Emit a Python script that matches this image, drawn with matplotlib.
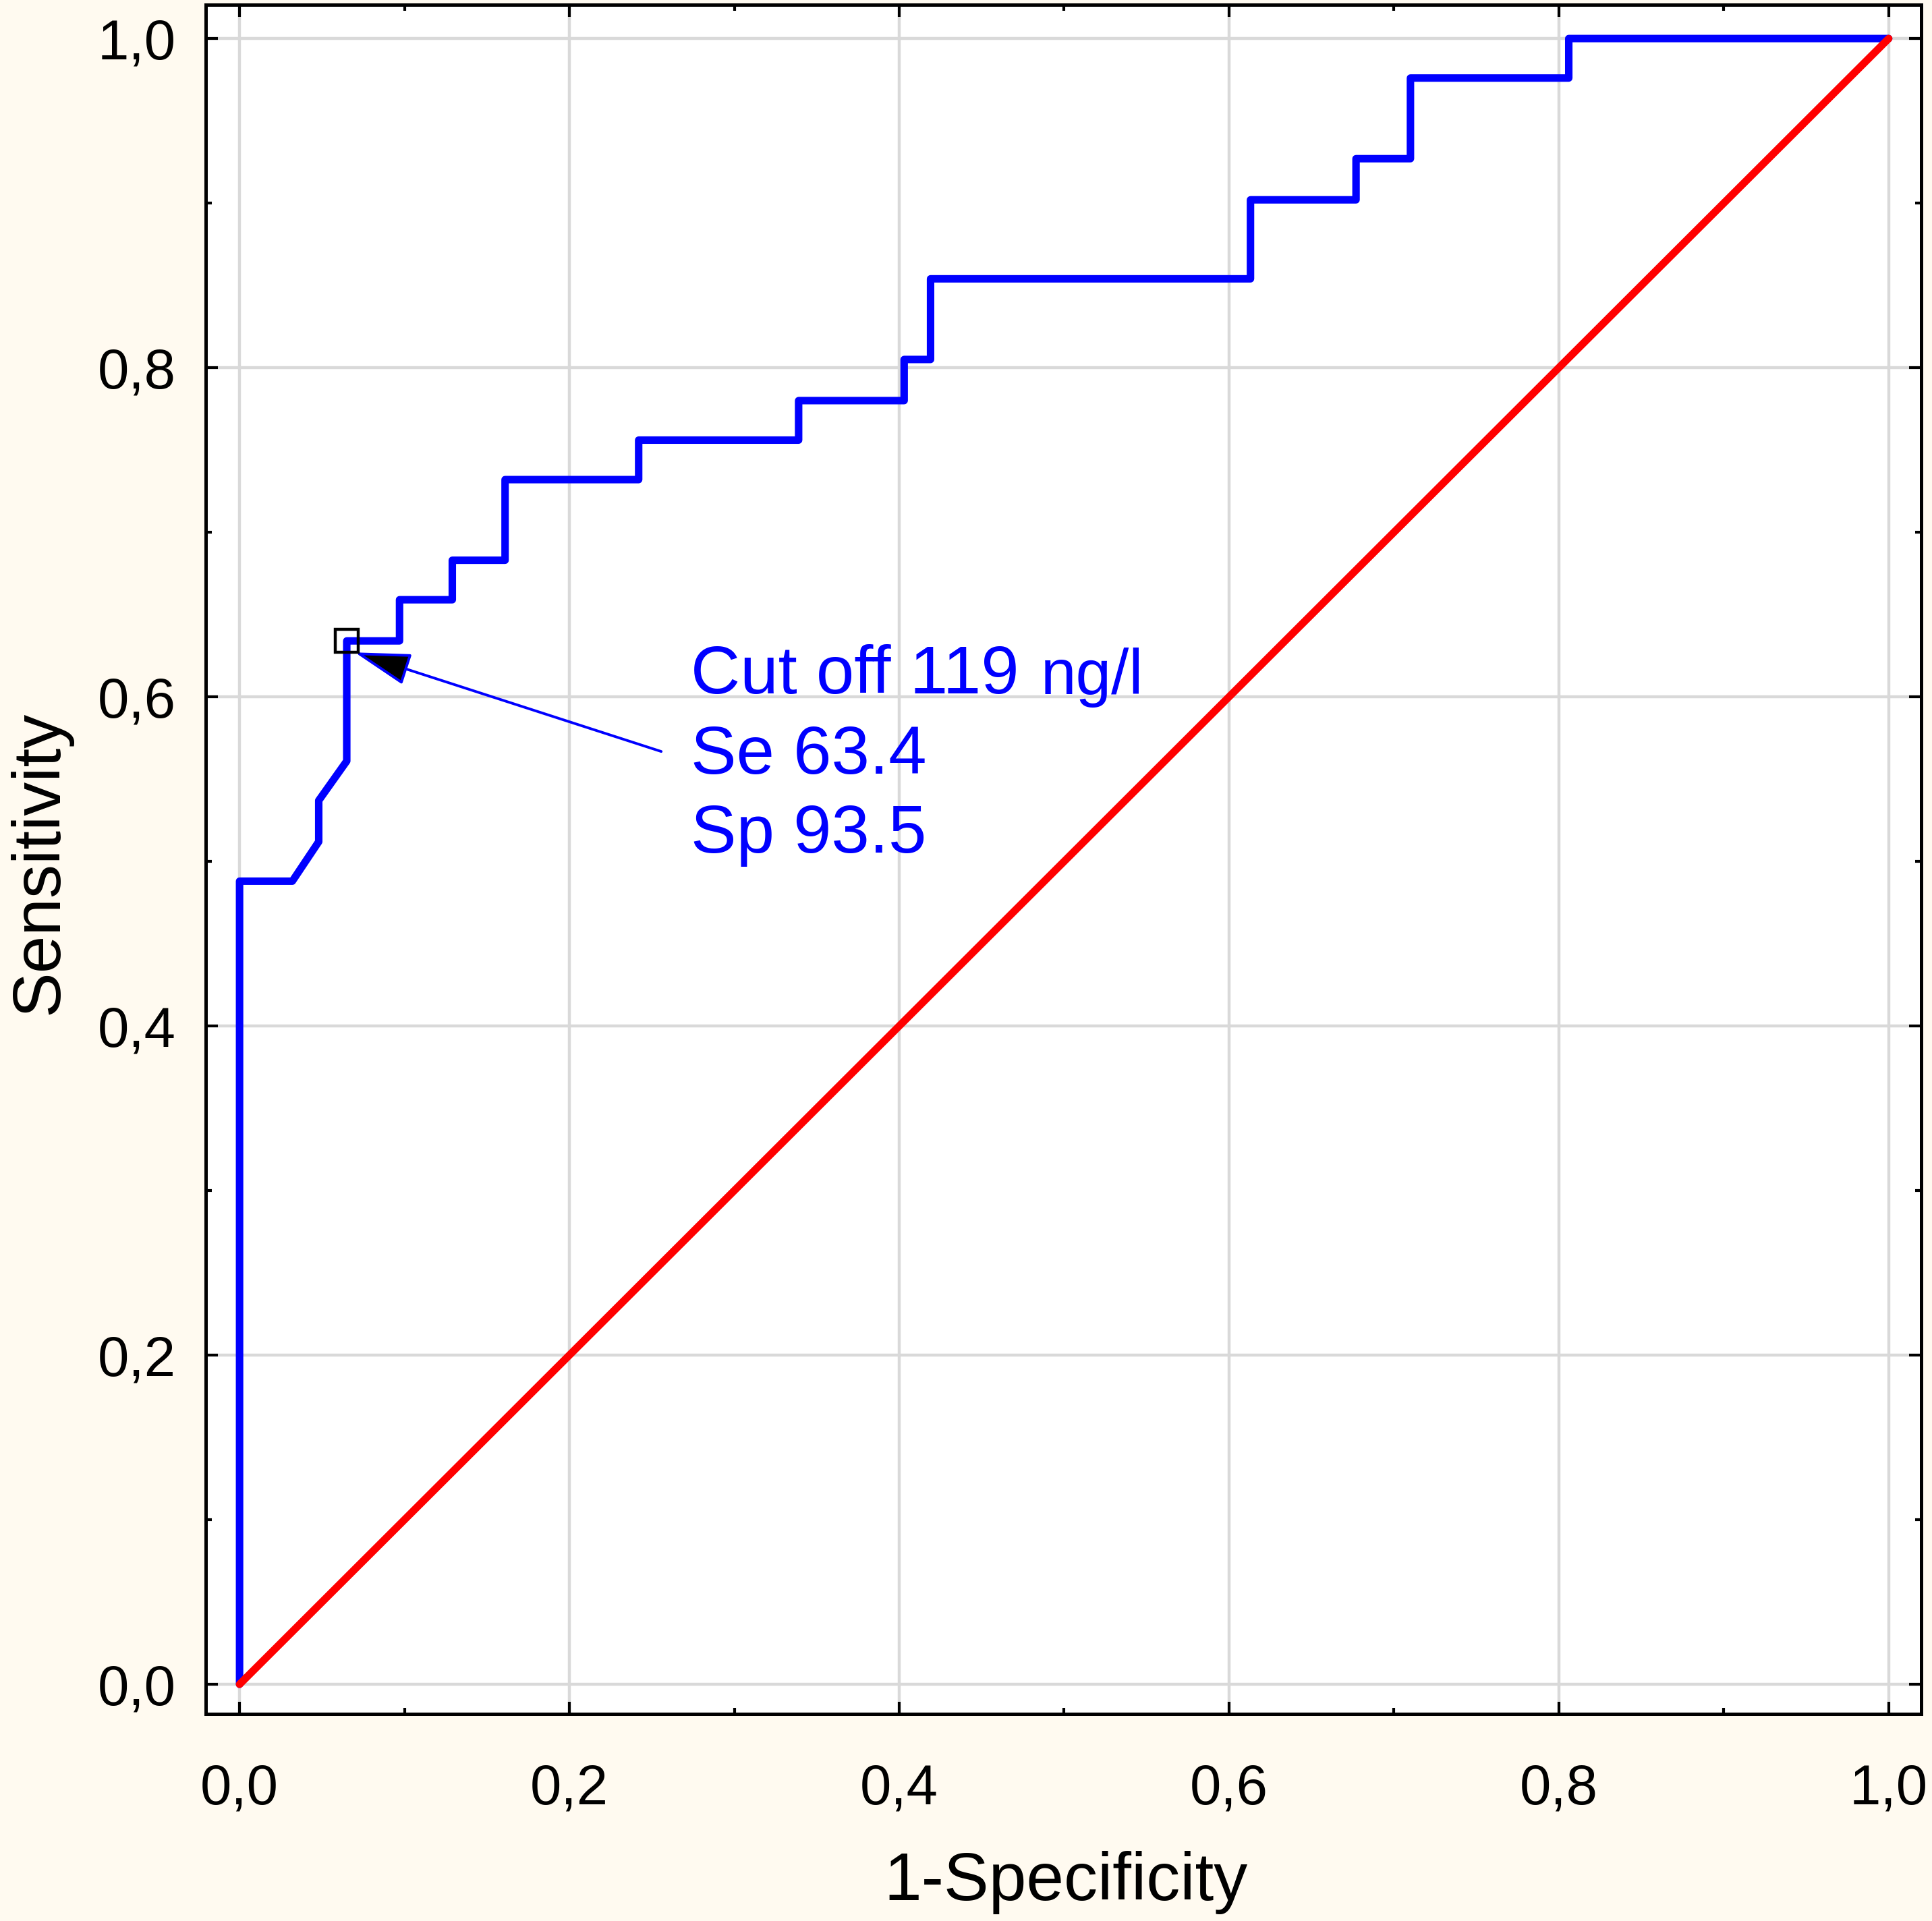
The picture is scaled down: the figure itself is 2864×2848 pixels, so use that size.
import matplotlib
matplotlib.use("Agg")
import matplotlib.pyplot as plt
from matplotlib.ticker import MultipleLocator, FixedLocator, FixedFormatter

# ROC curve
fpr = [0.0, 0.0, 0.032, 0.048, 0.048, 0.065, 0.065, 0.097, 0.097, 0.129, 0.129,
       0.161, 0.161, 0.242, 0.242, 0.339, 0.339, 0.403, 0.403, 0.419, 0.419,
       0.613, 0.613, 0.677, 0.677, 0.710, 0.710, 0.806, 0.806, 1.0]
tpr = [0.0, 0.488, 0.488, 0.512, 0.537, 0.561, 0.634, 0.634, 0.659, 0.659, 0.683,
       0.683, 0.732, 0.732, 0.756, 0.756, 0.780, 0.780, 0.805, 0.805, 0.854,
       0.854, 0.902, 0.902, 0.927, 0.927, 0.976, 0.976, 1.0, 1.0]

# reference diagonal
diag_x = [0.0, 1.0]
diag_y = [0.0, 1.0]

# cut-off point
cut_x = 0.065
cut_y = 0.634
cut_lines = ["Cut off 119 ", "Se 63.4", "Sp 93.5"]
cut_unit = "ng/l"

tick_vals = [0.0, 0.2, 0.4, 0.6, 0.8, 1.0]
tick_labels = ["0,0", "0,2", "0,4", "0,6", "0,8", "1,0"]

plt.rcParams['font.family'] = ['Liberation Sans', 'DejaVu Sans']

fig = plt.figure(figsize=(14.32, 14.24), dpi=200, facecolor='#FFFAF0')
ax = fig.add_axes([0.1065, 0.1078, 0.8879, 0.8897])
ax.set_facecolor('white')

ax.plot(fpr, tpr, color='#0000FF', lw=4.0, solid_joinstyle='round',
        solid_capstyle='round', zorder=3)
ax.plot(diag_x, diag_y, color='#FF0000', lw=4.0, solid_capstyle='round', zorder=4)
ax.plot([cut_x], [cut_y], marker='s', ms=12.5, mew=1.6, mfc='none', mec='black',
        zorder=6)

ax.set_xlim(-0.0205, 1.0197)
ax.set_ylim(-0.018, 1.0205)

for axis in (ax.xaxis, ax.yaxis):
    axis.set_major_locator(FixedLocator(tick_vals))
    axis.set_major_formatter(FixedFormatter(tick_labels))
    axis.set_minor_locator(MultipleLocator(0.1))

ax.grid(True, which='major', color='#D9D9D9', lw=1.6, zorder=0)
ax.set_axisbelow(True)

ax.tick_params(which='both', direction='in', top=True, right=True,
               width=1.5, color='black')
ax.tick_params(which='major', length=6.5, labelsize=30)
ax.tick_params(which='minor', length=3.2)
ax.tick_params(axis='x', which='major', pad=26)
ax.tick_params(axis='y', which='major', pad=16)

for sp in ax.spines.values():
    sp.set_linewidth(1.8)

ax.set_xlabel("1-Specificity", fontsize=36)
ax.set_ylabel("Sensitivity", fontsize=36)
ax.xaxis.set_label_coords(0.5014, -0.080)
ax.yaxis.set_label_coords(-0.078, 0.498)

# annotation text
t1 = ax.text(0.2737, 0.602, cut_lines[0], color='#0000FF', fontsize=36.5,
             va='baseline', ha='left')
ax.annotate(cut_unit, xy=(1, 0), xycoords=t1, xytext=(1.5, 0),
            textcoords='offset points', color='#0000FF', fontsize=34,
            va='bottom', ha='left')
ax.text(0.2737, 0.5533, cut_lines[1], color='#0000FF', fontsize=36.5,
        va='baseline', ha='left')
ax.text(0.2737, 0.5053, cut_lines[2], color='#0000FF', fontsize=36.5,
        va='baseline', ha='left')

# arrow pointing at the cut-off
ax.annotate("", xy=(0.0699, 0.627), xytext=(0.2557, 0.5668),
            arrowprops=dict(arrowstyle='-|>,head_length=26,head_width=7.5',
                            mutation_scale=1, lw=1.4, ec='#0000FF', fc='black',
                            shrinkA=0, shrinkB=0),
            zorder=5)

fig.savefig("out.png", dpi=200, facecolor=fig.get_facecolor())
